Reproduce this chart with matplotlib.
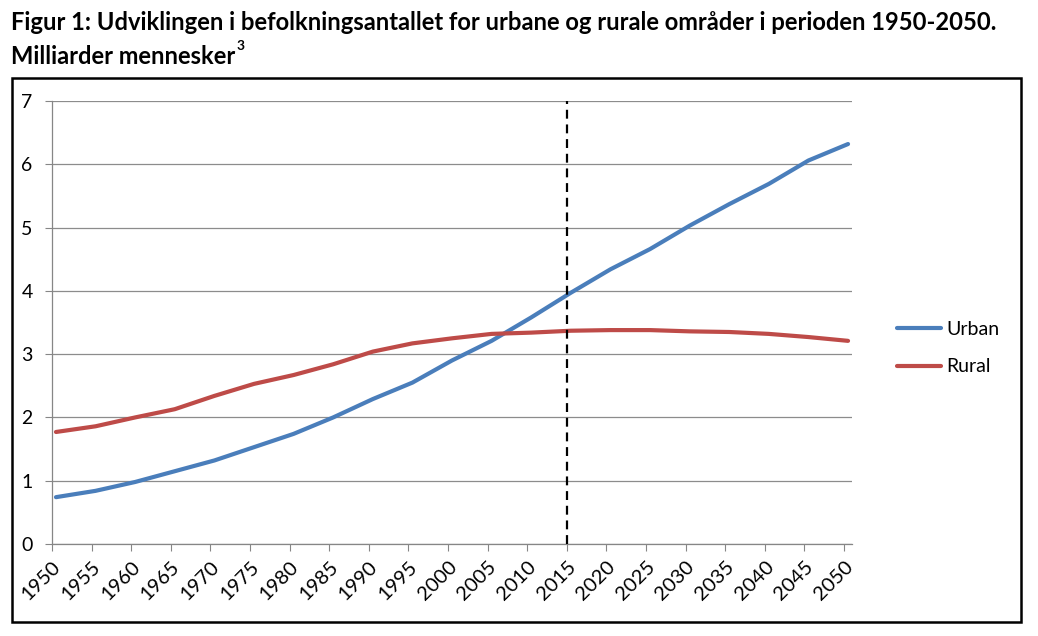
import matplotlib
matplotlib.use("Agg")
import matplotlib.pyplot as plt
from matplotlib.patches import Rectangle

plt.rcParams['font.family'] = ['Lato', 'DejaVu Sans']

years = list(range(1950, 2051, 5))
urban = [0.74, 0.84, 0.98, 1.15, 1.32, 1.53, 1.74, 2.00, 2.29, 2.55, 2.90,
         3.21, 3.58, 3.97, 4.34, 4.66, 5.03, 5.37, 5.69, 6.06, 6.32]
rural = [1.77, 1.86, 2.00, 2.13, 2.34, 2.53, 2.67, 2.84, 3.04, 3.17, 3.25,
         3.32, 3.34, 3.37, 3.38, 3.38, 3.36, 3.35, 3.32, 3.27, 3.21]
series_names = ["Urban", "Rural"]
tick_labels = [str(y) for y in years]
y_ticks = [0, 1, 2, 3, 4, 5, 6, 7]
marker_year = 2014.5
title_line1 = "Figur 1: Udviklingen i befolkningsantallet for urbane og rurale områder i perioden 1950-2050."
title_line2 = "Milliarder mennesker"
title_sup = "3"

W, H = 1038, 636
fig = plt.figure(figsize=(W / 100, H / 100), dpi=100)

# outer chart frame
fig.patches.append(Rectangle((12 / W, 1 - 622 / H), (1021 - 12) / W, (622 - 78) / H,
                             transform=fig.transFigure, fill=False, edgecolor='black',
                             linewidth=1.8, zorder=0))

fig.text(11 / W, 1 - 22 / H, title_line1, fontsize=17.1, fontweight='bold', va='center', ha='left')
t2 = fig.text(11 / W, 1 - 56 / H, title_line2, fontsize=17.1, fontweight='bold', va='center', ha='left')
fig.canvas.draw()
bb = t2.get_window_extent()
fig.text((bb.x1 + 1) / W, 1 - 46 / H, title_sup, fontsize=10, fontweight='bold', va='center', ha='left')

ax = fig.add_axes([52 / W, 1 - 544 / H, (852 - 52) / W, (544 - 101) / H])

colors = ['#4A7EBB', '#BE4B48']
ax.plot(years, urban, color=colors[0], lw=3.0, solid_capstyle='round', label=series_names[0], zorder=3)
ax.plot(years, rural, color=colors[1], lw=3.0, solid_capstyle='round', label=series_names[1], zorder=3)
ax.axvline(marker_year, color='black', lw=1.6, ls=(0, (4, 2.6)), zorder=4)

ax.set_xlim(1949.5, 2050.5)
ax.set_ylim(0, 7)
ax.set_yticks(y_ticks)
ax.set_yticklabels([str(v) for v in y_ticks], fontsize=14)
ax.set_xticks([y - 0.5 for y in years])
ax.set_xticklabels(tick_labels, fontsize=14.5, rotation=45, ha='right', rotation_mode='anchor')
ax.tick_params(axis='x', length=5, width=0.8, color='#868686', pad=5)
ax.tick_params(axis='y', length=5, width=0.8, color='#868686', pad=9)
ax.grid(axis='y', color='#8C8C8C', lw=0.9)
ax.set_axisbelow(True)
for s in ['top', 'right']:
    ax.spines[s].set_visible(False)
for s in ['left', 'bottom']:
    ax.spines[s].set_color('#868686')
    ax.spines[s].set_linewidth(0.9)

leg = ax.legend(loc='center left', bbox_to_anchor=(1.056, 0.442), frameon=False, fontsize=14,
                borderaxespad=0, borderpad=0,
                handlelength=2.25, handletextpad=0.28, labelspacing=1.05)

fig.savefig("out.png", dpi=100)
